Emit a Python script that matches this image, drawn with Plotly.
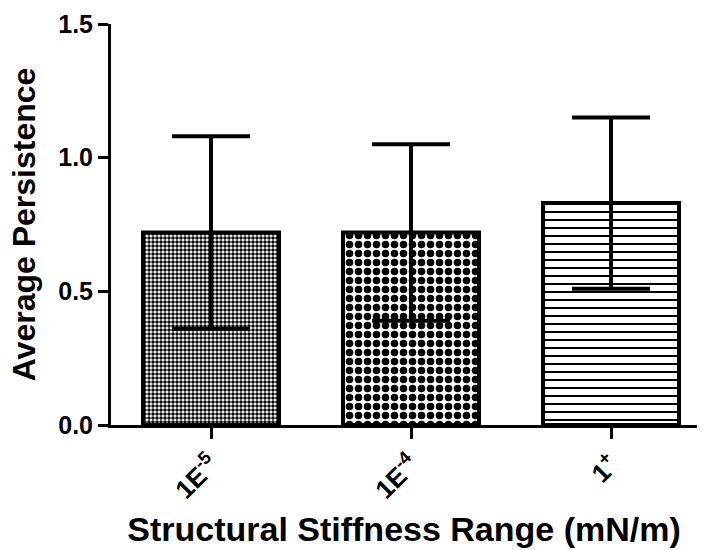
import plotly.graph_objects as go

# Data
categories = ["1E<sup>-5</sup>", "1E<sup>-4</sup>", "1<sup>+</sup>"]
means = [0.72, 0.72, 0.83]
errors = [0.36, 0.33, 0.32]
patterns = [".", ".", "-"]
pattern_sizes = [4, 9, 8]
pattern_solidity = [0.6, 0.55, 0.25]
y_ticks = [0.0, 0.5, 1.0, 1.5]
y_tick_labels = ["0.0", "0.5", "1.0", "1.5"]

FONT = "Liberation Sans, Arial, sans-serif"

fig = go.Figure()
fig.add_trace(go.Bar(
    x=[0, 1, 2],
    y=means,
    width=0.68,
    marker=dict(
        color="white",
        line=dict(color="black", width=4),
        pattern=dict(
            shape=patterns,
            size=pattern_sizes,
            solidity=pattern_solidity,
            fgcolor="black",
            bgcolor="white",
            fillmode="replace",
        ),
    ),
    error_y=dict(type="data", array=errors, visible=True,
                 color="black", thickness=4, width=39),
    showlegend=False,
))

fig.update_layout(
    width=705, height=550,
    margin=dict(l=111, r=8, t=24, b=125),
    paper_bgcolor="white", plot_bgcolor="white",
    font=dict(family=FONT, color="black", size=25, weight="bold"),
    xaxis=dict(
        range=[-0.5, 2.43],
        tickmode="array", tickvals=[0, 1, 2], ticktext=categories,
        tickangle=-45,
        ticks="outside", ticklen=11, tickwidth=3, tickcolor="black",
        showline=True, linecolor="black", linewidth=3,
        showgrid=False, zeroline=False,
        tickfont=dict(family=FONT, size=26, weight="bold"),
        title=dict(text="Structural Stiffness Range (mN/m)",
                   font=dict(family=FONT, size=34, weight="bold"),
                   standoff=14),
    ),
    yaxis=dict(
        range=[0, 1.5],
        tickmode="array", tickvals=y_ticks, ticktext=y_tick_labels,
        ticks="outside", ticklen=10, tickwidth=3, tickcolor="black",
        showline=True, linecolor="black", linewidth=3,
        showgrid=False, zeroline=False,
        tickfont=dict(family=FONT, size=25, weight="bold"),
        title=dict(text="Average Persistence",
                   font=dict(family=FONT, size=32, weight="bold"),
                   standoff=14),
    ),
)

fig.write_html("out.html")
